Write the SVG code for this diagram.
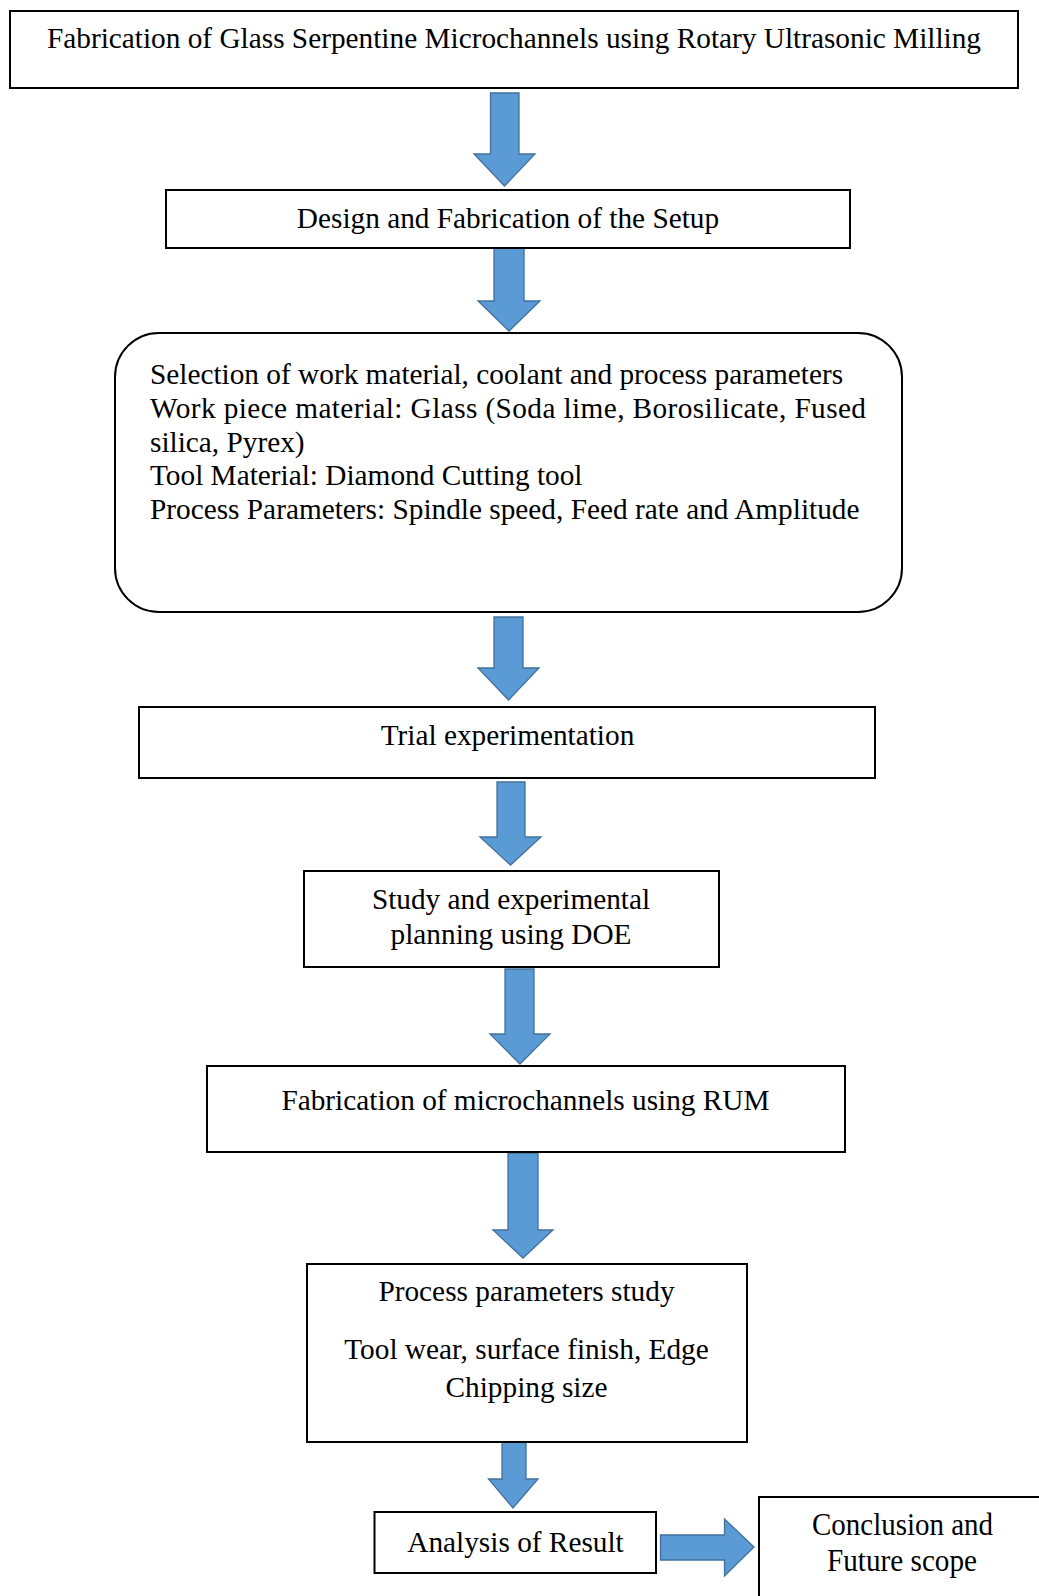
<svg xmlns="http://www.w3.org/2000/svg" width="1039" height="1596" viewBox="0 0 1039 1596">
<defs>
<style>
.box{fill:#ffffff;stroke:#000000;stroke-width:2}
.arr{fill:#5B9BD5;stroke:#41719C;stroke-width:1.3;stroke-linejoin:miter}
.t{font-family:"Liberation Serif","Times New Roman",serif;font-size:29.3px;fill:#000000}
.c{text-anchor:middle}
</style>
</defs>
<rect width="1039" height="1596" fill="#ffffff"/>
<g id="connectors">
<polygon class="arr" points="490.5,93 519,93 519,154 535,154 504.5,186 474,154 490.5,154"/>
<polygon class="arr" points="494,247 524,247 524,301 540,301 509,331 478,301 494,301"/>
<polygon class="arr" points="494,617 523,617 523,668 539,668 508.5,700 478,668 494,668"/>
<polygon class="arr" points="497,782 525,782 525,837 541,837 510.5,865 480,837 497,837"/>
<polygon class="arr" points="505,969 534,969 534,1034 550,1034 520,1064 490,1034 505,1034"/>
<polygon class="arr" points="508,1153 538,1153 538,1230 553,1230 523,1258 493,1230 508,1230"/>
<polygon class="arr" points="502,1442 526,1442 526,1479 538,1479 513,1508 488.5,1479 502,1479"/>
<polygon class="arr" points="660.5,1535 724.5,1535 724.5,1519 754,1547 724.5,1576 724.5,1560 660.5,1560"/>
</g>
<g id="node-title">
<rect class="box" x="10" y="11" width="1008" height="77"/>
<text class="t c" x="514" y="47.5">Fabrication of Glass Serpentine Microchannels using Rotary Ultrasonic Milling</text>
</g>
<g id="node-design">
<rect class="box" x="166" y="190" width="684" height="58"/>
<text class="t c" x="508" y="228">Design and Fabrication of the Setup</text>
</g>
<g id="node-selection">
<rect class="box" x="115" y="333" width="787" height="279" rx="44" ry="44"/>
<text class="t" x="150" y="384">Selection of work material, coolant and process parameters</text>
<text class="t" x="150" y="418" textLength="716" lengthAdjust="spacing">Work piece material: Glass (Soda lime, Borosilicate, Fused</text>
<text class="t" x="150" y="451.5">silica, Pyrex)</text>
<text class="t" x="150" y="485">Tool Material: Diamond Cutting tool</text>
<text class="t" x="150" y="518.5">Process Parameters: Spindle speed, Feed rate and Amplitude</text>
</g>
<g id="node-trial">
<rect class="box" x="139" y="707" width="736" height="71"/>
<text class="t c" x="507.5" y="745">Trial experimentation</text>
</g>
<g id="node-doe">
<rect class="box" x="304" y="871" width="415" height="96"/>
<text class="t c" x="511" y="909">Study and experimental</text>
<text class="t c" x="511" y="944">planning using DOE</text>
</g>
<g id="node-rum">
<rect class="box" x="207" y="1066" width="638" height="86"/>
<text class="t c" x="525.5" y="1110">Fabrication of microchannels using RUM</text>
</g>
<g id="node-study">
<rect class="box" x="307" y="1264" width="440" height="178"/>
<text class="t c" x="526.5" y="1301">Process parameters study</text>
<text class="t c" x="526.5" y="1359">Tool wear, surface finish, Edge</text>
<text class="t c" x="526.5" y="1397">Chipping size</text>
</g>
<g id="node-analysis">
<rect class="box" x="374.5" y="1512" width="281.5" height="61"/>
<text class="t c" x="515.5" y="1552">Analysis of Result</text>
</g>
<g id="node-conclusion">
<rect class="box" x="759" y="1497" width="300" height="130"/>
<text class="t c" x="902.5" y="1535" style="font-size:32px" textLength="181" lengthAdjust="spacingAndGlyphs">Conclusion and</text>
<text class="t c" x="902" y="1571" style="font-size:32px" textLength="150" lengthAdjust="spacingAndGlyphs">Future scope</text>
</g>
</svg>
